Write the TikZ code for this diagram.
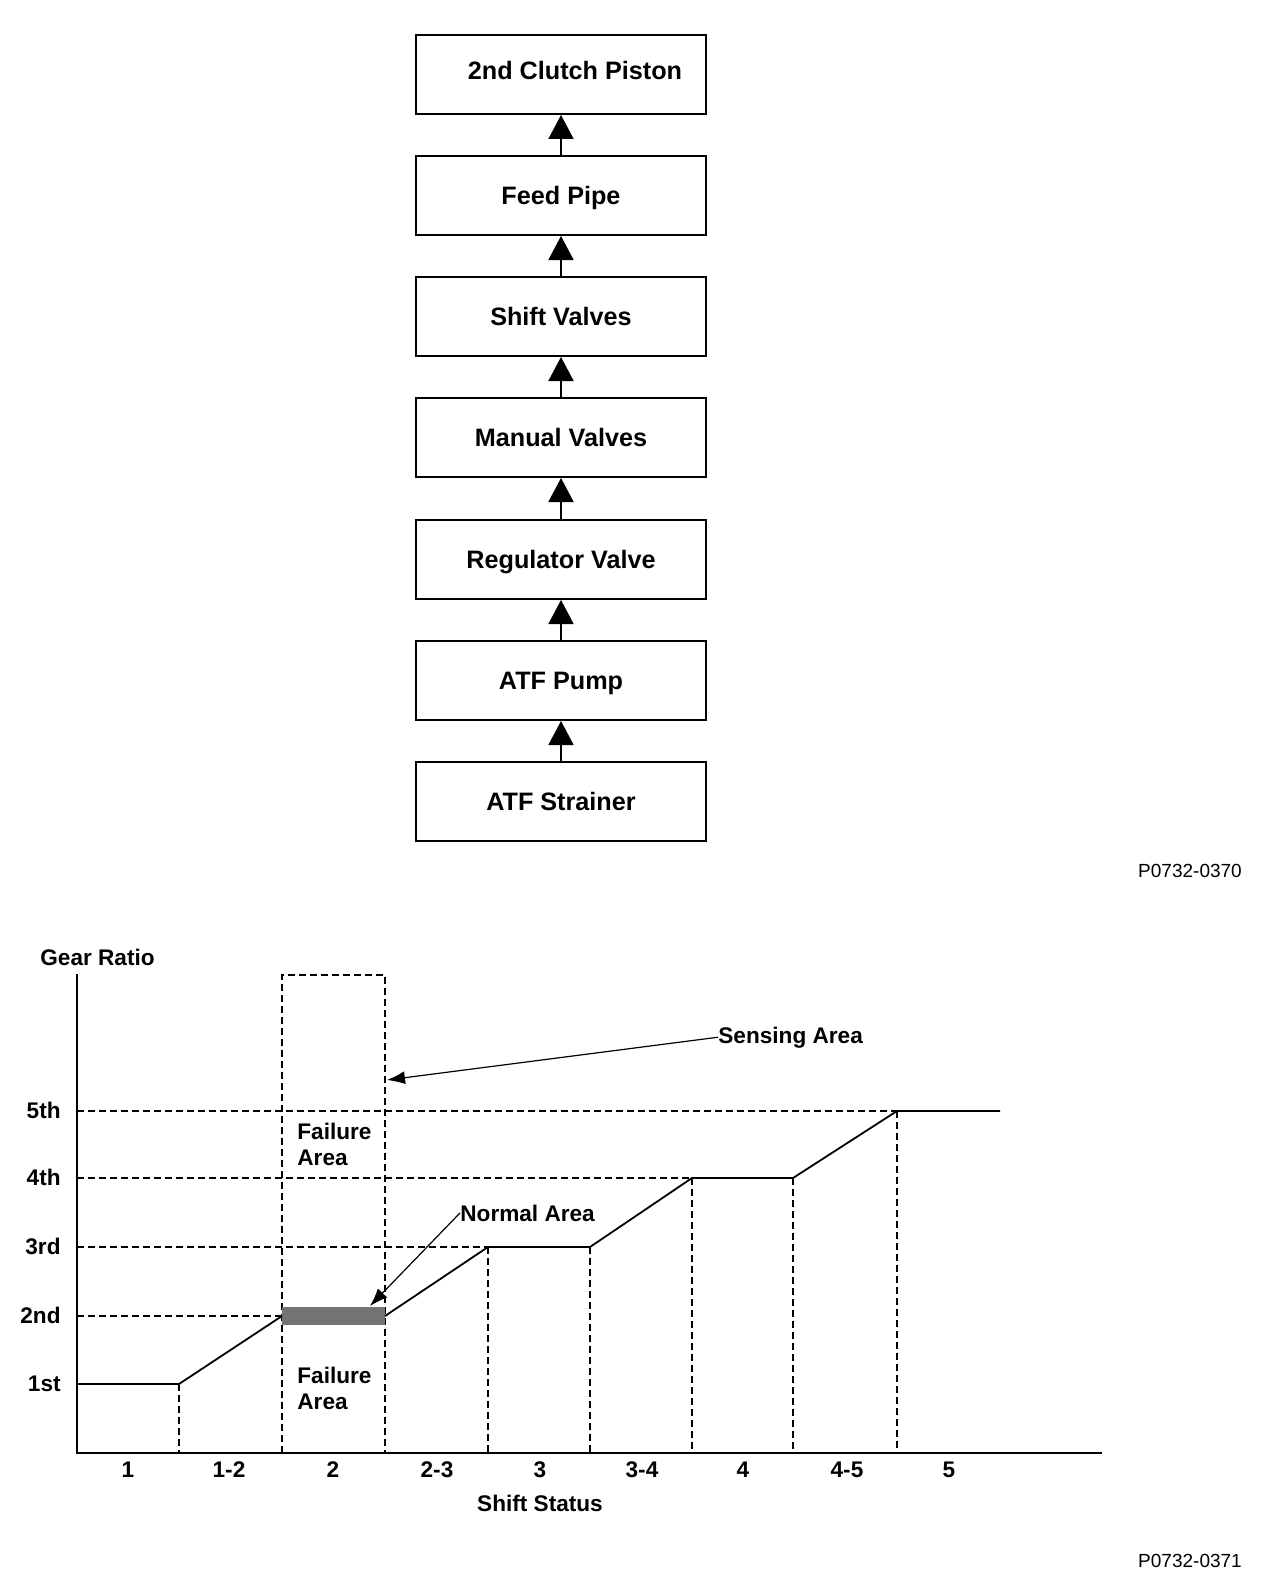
\documentclass[tikz,border=0pt]{standalone}
\usepackage{fontspec}
\setmainfont{Liberation Sans}
\usetikzlibrary{arrows.meta}

\tikzset{
  unit/.style={draw, line width=1pt, minimum width=145pt, minimum height=39.5pt, inner sep=0pt, text height=9pt, text depth=0pt, font=\fontsize{12.6}{15}\selectfont\bfseries},
  flow/.style={line width=0.9pt, -{Triangle[width=12.5pt,length=12pt]}},
  axis/.style={line width=1.1pt},
  guide/.style={dash pattern=on 3.5pt off 2pt, line width=0.8pt},
  curve/.style={line width=0.9pt},
  tag/.style={font=\fontsize{11.3}{13}\selectfont\bfseries, inner sep=0pt},
  code/.style={font=\fontsize{9.5}{11}\selectfont, inner sep=0pt},
  leader/.style={line width=0.6pt, -{Latex[length=9pt,width=6.5pt]}},
}

\begin{document}
\begin{tikzpicture}[x=0.5pt,y=-0.5pt]
\useasboundingbox (0,0) rectangle (1280,1584);
% flow of the oil
\node[unit] (piston) at (561,74.5) {\hspace*{14pt}\raisebox{2pt}{2nd Clutch Piston}};
\node[unit] (feed) at (561,195.5) {Feed Pipe};
\node[unit] (shift) at (561,316.5) {Shift Valves};
\node[unit] (manual) at (561,437.5) {Manual Valves};
\node[unit] (regulator) at (561,559.5) {Regulator Valve};
\node[unit] (pump) at (561,680.5) {ATF Pump};
\node[unit] (strainer) at (561,801.5) {ATF Strainer};
\draw[flow] (strainer) -- (pump);
\draw[flow] (pump) -- (regulator);
\draw[flow] (regulator) -- (manual);
\draw[flow] (manual) -- (shift);
\draw[flow] (shift) -- (feed);
\draw[flow] (feed) -- (piston);
\node[code, anchor=base] (codeA) at (1190,877) {P0732-0370};
% gear ratio chart
\draw[axis] (77,974) -- (77,1453) -- (1102,1453);
\draw[guide] (77,1111) -- (897,1111);
\draw[guide] (77,1178) -- (692,1178);
\draw[guide] (77,1247) -- (488,1247);
\draw[guide] (77,1316) -- (282,1316);
\draw[guide] (179,1384) -- (179,1453);
\draw[guide] (282,1453) -- (282,975) -- (385,975) -- (385,1453);
\draw[guide] (488,1247) -- (488,1453);
\draw[guide] (590,1247) -- (590,1453);
\draw[guide] (692,1178) -- (692,1453);
\draw[guide] (793,1178) -- (793,1453);
\draw[guide] (897,1111) -- (897,1453);
\fill[black!55] (282,1307) rectangle (385,1325);
\draw[curve] (77,1384) -- (179,1384) -- (282,1316);
\draw[curve] (385,1316) -- (488,1247) -- (590,1247) -- (692,1178) -- (793,1178) -- (897,1111) -- (1000,1111);
\node[tag, anchor=base west] (ratio) at (40,965) {Gear Ratio};
\node[tag, anchor=base east] (fifth) at (61,1118) {5th};
\node[tag, anchor=base east] (fourth) at (61,1185) {4th};
\node[tag, anchor=base east] (third) at (61,1254) {3rd};
\node[tag, anchor=base east] (second) at (61,1323) {2nd};
\node[tag, anchor=base east] (first) at (61,1391) {1st};
\node[tag, anchor=north west, align=left] (failtop) at (297,1123) {Failure\\Area};
\node[tag, anchor=north west, align=left] (failbot) at (297,1367) {Failure\\Area};
\node[tag, anchor=base west] (sensing) at (718,1043) {Sensing Area};
\coordinate (sensetip) at (387,1080);
\draw[leader] (sensing.west) -- (sensetip);
\node[tag, anchor=base west] (normal) at (460,1221) {Normal Area};
\coordinate (normaltip) at (370,1306);
\draw[leader] (normal.west) -- (normaltip);
\node[tag, anchor=base] (s1) at (128,1477) {1};
\node[tag, anchor=base] (s12) at (229,1477) {1-2};
\node[tag, anchor=base] (s2) at (333,1477) {2};
\node[tag, anchor=base] (s23) at (437,1477) {2-3};
\node[tag, anchor=base] (s3) at (540,1477) {3};
\node[tag, anchor=base] (s34) at (642,1477) {3-4};
\node[tag, anchor=base] (s4) at (743,1477) {4};
\node[tag, anchor=base] (s45) at (847,1477) {4-5};
\node[tag, anchor=base] (s5) at (949,1477) {5};
\node[tag, anchor=base] (status) at (540,1511) {Shift Status};
\node[code, anchor=base] (codeB) at (1190,1567) {P0732-0371};
\end{tikzpicture}
\end{document}
